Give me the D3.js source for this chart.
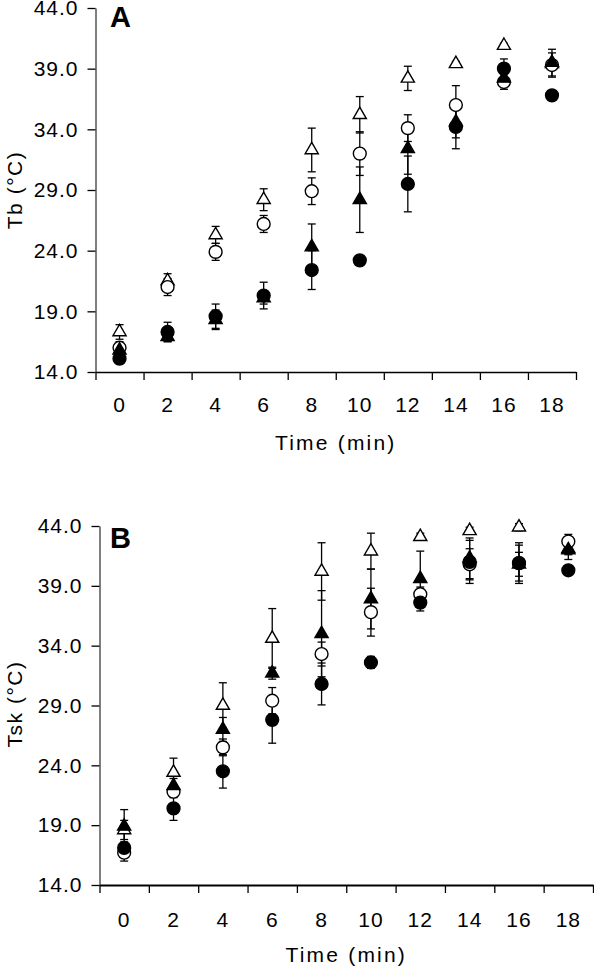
<!DOCTYPE html>
<html>
<head>
<meta charset="utf-8">
<script src="https://cdn.jsdelivr.net/npm/d3@7"></script>
<style>
    body { margin: 0; background: #fff; }
    svg text { font-family: "Liberation Sans", Arial, sans-serif; fill: #000; }
</style>
</head>
<body>
<svg id="chart" width="594" height="972"></svg>
<script>
// time points (min) and y ticks shared by both panels
const times = [0, 2, 4, 6, 8, 10, 12, 14, 16, 18];
const yTicks = [14, 19, 24, 29, 34, 39, 44];

// panel A - Tb (°C), means and SD per group
const tbOpenTri = [17.3, 21.5, 25.3, 28.2, 32.3, 35.2, 38.2, 39.4, 40.9, 39.4];
const tbOpenTriSd = [0.6, 0.6, 0.7, 0.9, 1.8, 1.5, 1.0, 0.2, 0.2, 0.3];
const tbOpenCirc = [16.0, 21.0, 23.9, 26.2, 28.9, 32.0, 34.1, 36.0, 37.9, 39.3];
const tbOpenCircSd = [0.5, 0.7, 0.7, 0.7, 1.1, 1.8, 1.1, 1.6, 0.6, 1.0];
const tbFilledTri = [15.8, 16.9, 18.3, 20.1, 24.3, 28.2, 32.4, 34.6, 38.2, 39.5];
const tbFilledTriSd = [0.5, 0.4, 0.8, 0.5, 1.9, 2.7, 2.1, 1.3, 0.5, 1.1];
const tbFilledCirc = [15.1, 17.3, 18.6, 20.3, 22.4, 23.2, 29.5, 34.2, 39.0, 36.8];
const tbFilledCircSd = [0.4, 0.8, 1.0, 1.1, 1.6, 0.3, 2.3, 1.8, 0.8, 0.2];

// panel B - Tsk (°C)
const tskOpenTri = [18.6, 23.4, 29.0, 34.6, 40.2, 41.9, 43.1, 43.6, 43.9, 42.1];
const tskOpenTriSd = [0.8, 1.2, 1.9, 2.5, 2.4, 1.5, 0.3, 0.3, 0.3, 0.5];
const tskOpenCirc = [16.7, 21.8, 25.5, 29.4, 33.3, 36.8, 38.3, 40.8, 40.9, 42.7];
const tskOpenCircSd = [0.7, 0.5, 0.7, 1.1, 1.0, 2.0, 0.6, 1.3, 1.5, 0.6];
const tskFilledTri = [18.9, 22.3, 27.0, 31.7, 35.0, 37.9, 39.6, 41.3, 40.8, 42.0];
const tskFilledTriSd = [1.4, 0.6, 1.0, 0.5, 3.6, 2.5, 2.3, 1.7, 1.0, 0.8];
const tskFilledCirc = [17.1, 20.4, 23.5, 27.8, 30.8, 32.6, 37.6, 41.0, 40.9, 40.3];
const tskFilledCircSd = [0.5, 1.0, 1.4, 1.95, 1.75, 0.5, 0.7, 1.8, 1.7, 0.2];

var svg = d3.select("#chart");

function makeSeries(mean, sd, shape, filled) {
    return { shape: shape, filled: filled, points: times.map(function (t, i) {
        return { time: t, mean: mean[i], sd: sd[i] };
    }) };
}

function drawPanel(p) {
    var g = svg.append("g");

    var x = d3.scaleBand().domain(times).range([p.left, p.right]).paddingInner(0);
    var xEdges = d3.scaleLinear().domain([0, times.length]).range([p.left, p.right]);
    var y = d3.scaleLinear().domain([14, 44]).range([p.bottom, p.top]);

    // x axis: ticks at the band edges, labels in the middle
    var xAxis = g.append("g")
        .attr("transform", "translate(0," + p.bottom + ")")
        .call(d3.axisBottom(xEdges).tickValues(d3.range(0, times.length + 1)).tickFormat("").tickSize(8).tickSizeOuter(0));
    xAxis.select(".domain").attr("stroke-width", p.xLineWidth);
    xAxis.selectAll(".tick line").attr("stroke-width", 1.3);

    var xLabels = g.append("g")
        .attr("transform", "translate(0," + p.bottom + ")")
        .call(d3.axisBottom(x).tickSize(0).tickPadding(p.xPad));
    xLabels.select(".domain").remove();
    xLabels.selectAll("text").attr("font-size", 21).attr("letter-spacing", 1).attr("font-family", null);

    var yAxis = g.append("g")
        .attr("transform", "translate(" + p.left + ",0)")
        .call(d3.axisLeft(y).tickValues(yTicks).tickFormat(d3.format(".1f")).tickSize(8).tickPadding(9).tickSizeOuter(0));
    yAxis.selectAll(".tick line").attr("stroke-width", 1.3);
    yAxis.selectAll("text").attr("font-size", 21).attr("letter-spacing", 1).attr("font-family", null);

    g.append("text")
        .attr("x", (p.left + p.right) / 2)
        .attr("y", p.titleY)
        .attr("text-anchor", "middle")
        .attr("font-size", 21)
        .attr("letter-spacing", 2.2)
        .text("Time (min)");

    g.append("text")
        .attr("transform", "translate(22," + p.labelY + ") rotate(-90)")
        .attr("text-anchor", "middle")
        .attr("font-size", 21)
        .attr("letter-spacing", 1.5)
        .text(p.yLabel);

    g.append("text")
        .attr("x", 110)
        .attr("y", p.letterY)
        .attr("font-size", 29)
        .attr("font-weight", "bold")
        .text(p.letter);

    var cx = function (d) { return x(d.time) + x.bandwidth() / 2; };

    // error bars behind the markers
    p.series.forEach(function (s) {
        var bars = g.append("g").selectAll("g")
            .data(s.points)
            .enter()
            .append("g")
            .attr("stroke", "#000")
            .attr("stroke-width", 1.3);
        bars.append("line")
            .attr("x1", cx).attr("x2", cx)
            .attr("y1", function (d) { return y(d.mean - d.sd); })
            .attr("y2", function (d) { return y(d.mean + d.sd); });
        [-1, 1].forEach(function (k) {
            bars.append("line")
                .attr("x1", function (d) { return cx(d) - 4; })
                .attr("x2", function (d) { return cx(d) + 4; })
                .attr("y1", function (d) { return y(d.mean + k * d.sd); })
                .attr("y2", function (d) { return y(d.mean + k * d.sd); });
        });
    });

    p.series.forEach(function (s) {
        var sym = s.shape === "triangle"
            ? d3.symbol().type(d3.symbolTriangle).size(75)
            : d3.symbol().type(d3.symbolCircle).size(130);
        g.append("g").selectAll("path")
            .data(s.points)
            .enter()
            .append("path")
            .attr("d", sym)
            .attr("transform", function (d) { return "translate(" + cx(d) + "," + y(d.mean) + ")"; })
            .attr("fill", s.filled ? "#000" : "#fff")
            .attr("stroke", "#000")
            .attr("stroke-width", 1.4);
    });
}

drawPanel({
    left: 95.5, right: 576, top: 8, bottom: 372,
    xLineWidth: 1.3, xPad: 25, titleY: 450, labelY: 190, letterY: 27,
    letter: "A", yLabel: "Tb (°C)",
    series: [
        makeSeries(tbOpenTri, tbOpenTriSd, "triangle", false),
        makeSeries(tbOpenCirc, tbOpenCircSd, "circle", false),
        makeSeries(tbFilledTri, tbFilledTriSd, "triangle", true),
        makeSeries(tbFilledCirc, tbFilledCircSd, "circle", true)
    ]
});

drawPanel({
    left: 99.5, right: 593, top: 526, bottom: 885,
    xLineWidth: 2.2, xPad: 27, titleY: 962, labelY: 704, letterY: 548,
    letter: "B", yLabel: "Tsk (°C)",
    series: [
        makeSeries(tskOpenTri, tskOpenTriSd, "triangle", false),
        makeSeries(tskOpenCirc, tskOpenCircSd, "circle", false),
        makeSeries(tskFilledTri, tskFilledTriSd, "triangle", true),
        makeSeries(tskFilledCirc, tskFilledCircSd, "circle", true)
    ]
});
</script>
</body>
</html>
